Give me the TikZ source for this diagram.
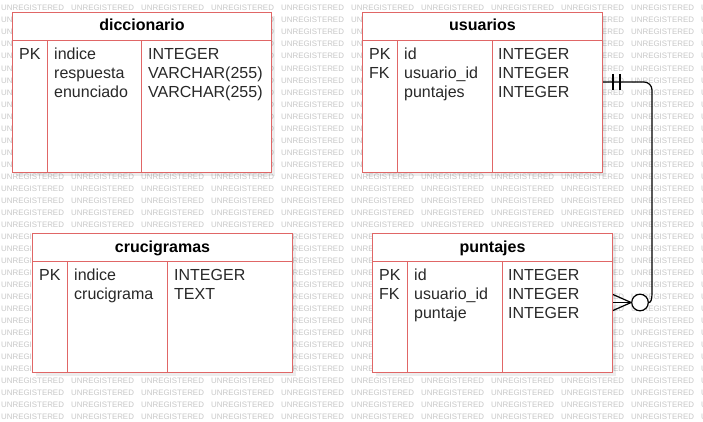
\documentclass[tikz,border=0pt]{standalone}
\usepackage{fontspec}
\setmainfont{Liberation Sans}
\definecolor{erred}{RGB}{224,102,102}
\definecolor{wmgray}{RGB}{200,200,200}
\definecolor{bodytext}{RGB}{40,40,40}
\begin{document}
\begin{tikzpicture}[x=1pt,y=-1pt,
  wm/.style={anchor=west, inner sep=0pt, text=wmgray, font=\fontsize{7.9}{8}\selectfont},
  tbl/.style={draw=erred, line width=1pt, fill=white, inner sep=0pt, anchor=north west},
  tline/.style={draw=erred, line width=1pt},
  shade/.style={fill=black, opacity=0.07},
  ttl/.style={anchor=base, inner sep=0pt, font=\bfseries\fontsize{16}{19}\selectfont, text=black},
  txt/.style={anchor=base west, inner sep=0pt, font=\fontsize{16}{19}\selectfont, text=bodytext},
  conn/.style={draw=black, line width=1.2pt},
  zerocirc/.style={circle, draw=black, line width=1.2pt, fill=white, minimum size=16.6pt, inner sep=0pt}]
\useasboundingbox (0,0) rectangle (703,422);
\fill[white] (0,0) rectangle (703,422);
% watermark (cells fully hidden under a table are left out)
\begin{scope}
\clip (0,0) rectangle (703,422);
\foreach \r in {0,...,34} {
  \foreach \c in {0,...,10} {
    \pgfmathsetmacro\wx{1+70*\c}
    \pgfmathsetmacro\wy{8.2+12.02*\r}
    \pgfmathtruncatemacro\hide{((\wx>=12)&&(\wx+62<=271)&&(\wy>=16)&&(\wy<=168))||((\wx>=362)&&(\wx+62<=602)&&(\wy>=16)&&(\wy<=168))||((\wx>=32)&&(\wx+62<=292)&&(\wy>=237)&&(\wy<=368))||((\wx>=372)&&(\wx+62<=612)&&(\wy>=237)&&(\wy<=368))}
    \ifnum\hide=0
      \node[wm] (wm-\r-\c) at (\wx,\wy) {UNREGISTERED};
    \fi
  }
}
\end{scope}
% shadows
\fill[shade] (16,16) rectangle (275,176);
\fill[shade] (366,16) rectangle (606,176);
\fill[shade] (36,237) rectangle (296,376);
\fill[shade] (376,237) rectangle (616,376);
% diccionario
\node[tbl, minimum width=259pt, minimum height=160pt] (dic) at (12,12) {};
\draw[tline] ([yshift=-29pt]dic.north west) -- ([yshift=-29pt]dic.north east);
\draw[tline] ([xshift=35pt,yshift=-29pt]dic.north west) -- ([xshift=35pt]dic.south west);
\draw[tline] ([xshift=129pt,yshift=-29pt]dic.north west) -- ([xshift=129pt]dic.south west);
\node[ttl] (dic-t) at ([yshift=-19pt]dic.north) {diccionario};
\node[txt] (dic-k1) at ([xshift=7pt,yshift=-48pt]dic.north west) {PK};
\foreach \t [count=\i from 0] in {indice,respuesta,enunciado}
  \node[txt] (dic-n\i) at ([xshift=42pt,yshift={-(48+19*\i)*1pt}]dic.north west) {\t};
\foreach \t [count=\i from 0] in {INTEGER,VARCHAR(255),VARCHAR(255)}
  \node[txt] (dic-y\i) at ([xshift=136pt,yshift={-(48+19*\i)*1pt}]dic.north west) {\t};
% usuarios
\node[tbl, minimum width=240pt, minimum height=160pt] (usu) at (362,12) {};
\draw[tline] ([yshift=-29pt]usu.north west) -- ([yshift=-29pt]usu.north east);
\draw[tline] ([xshift=35pt,yshift=-29pt]usu.north west) -- ([xshift=35pt]usu.south west);
\draw[tline] ([xshift=130pt,yshift=-29pt]usu.north west) -- ([xshift=130pt]usu.south west);
\node[ttl] (usu-t) at ([yshift=-19pt]usu.north) {usuarios};
\node[txt] (usu-k1) at ([xshift=7pt,yshift=-48pt]usu.north west) {PK};
\node[txt] (usu-k2) at ([xshift=7pt,yshift=-67pt]usu.north west) {FK};
\foreach \t [count=\i from 0] in {id,usuario\_id,puntajes}
  \node[txt] (usu-n\i) at ([xshift=42pt,yshift={-(48+19*\i)*1pt}]usu.north west) {\t};
\foreach \t [count=\i from 0] in {INTEGER,INTEGER,INTEGER}
  \node[txt] (usu-y\i) at ([xshift=136pt,yshift={-(48+19*\i)*1pt}]usu.north west) {\t};
% crucigramas
\node[tbl, minimum width=260pt, minimum height=139pt] (cru) at (32,233) {};
\draw[tline] ([yshift=-28pt]cru.north west) -- ([yshift=-28pt]cru.north east);
\draw[tline] ([xshift=35.5pt,yshift=-28pt]cru.north west) -- ([xshift=35.5pt]cru.south west);
\draw[tline] ([xshift=135pt,yshift=-28pt]cru.north west) -- ([xshift=135pt]cru.south west);
\node[ttl] (cru-t) at ([yshift=-19pt]cru.north) {crucigramas};
\node[txt] (cru-k1) at ([xshift=7pt,yshift=-47pt]cru.north west) {PK};
\foreach \t [count=\i from 0] in {indice,crucigrama}
  \node[txt] (cru-n\i) at ([xshift=42pt,yshift={-(47+19*\i)*1pt}]cru.north west) {\t};
\foreach \t [count=\i from 0] in {INTEGER,TEXT}
  \node[txt] (cru-y\i) at ([xshift=142pt,yshift={-(47+19*\i)*1pt}]cru.north west) {\t};
% puntajes
\node[tbl, minimum width=240pt, minimum height=139pt] (pun) at (372,233) {};
\draw[tline] ([yshift=-28pt]pun.north west) -- ([yshift=-28pt]pun.north east);
\draw[tline] ([xshift=35pt,yshift=-28pt]pun.north west) -- ([xshift=35pt]pun.south west);
\draw[tline] ([xshift=130pt,yshift=-28pt]pun.north west) -- ([xshift=130pt]pun.south west);
\node[ttl] (pun-t) at ([yshift=-19pt]pun.north) {puntajes};
\node[txt] (pun-k1) at ([xshift=7pt,yshift=-47pt]pun.north west) {PK};
\node[txt] (pun-k2) at ([xshift=7pt,yshift=-66pt]pun.north west) {FK};
\foreach \t [count=\i from 0] in {id,usuario\_id,puntaje}
  \node[txt] (pun-n\i) at ([xshift=42pt,yshift={-(47+19*\i)*1pt}]pun.north west) {\t};
\foreach \t [count=\i from 0] in {INTEGER,INTEGER,INTEGER}
  \node[txt] (pun-y\i) at ([xshift=136pt,yshift={-(47+19*\i)*1pt}]pun.north west) {\t};
% relationship
\coordinate (ua) at ([yshift=-70pt]usu.north east);
\coordinate (pa) at ([yshift=-69.5pt]pun.north east);
\coordinate (pa1) at ([yshift=-61.5pt]pun.north east);
\coordinate (pa2) at ([yshift=-77.5pt]pun.north east);
\node[zerocirc] (zro) at (640,302.5) {};
\draw[conn] (ua) -- (644,82) .. controls (648.4,82) and (652,85.6) .. (652,90)
  -- (652,293) .. controls (652,299) and (651,302.5) .. (zro.east);
\draw[conn] ([xshift=10pt,yshift=8pt]ua) -- ([xshift=10pt,yshift=-8pt]ua);
\draw[conn] ([xshift=17pt,yshift=8pt]ua) -- ([xshift=17pt,yshift=-8pt]ua);
\draw[conn] (zro.west) -- (pa);
\draw[conn] (zro.west) -- (pa1);
\draw[conn] (zro.west) -- (pa2);
\end{tikzpicture}
\end{document}
